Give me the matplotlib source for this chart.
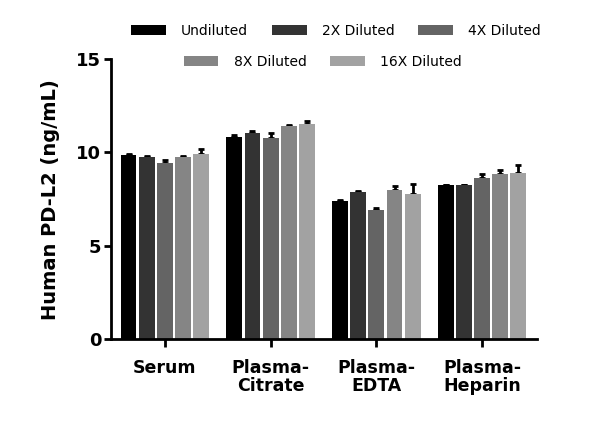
import numpy as np
import matplotlib
matplotlib.use("Agg")
import matplotlib.pyplot as plt
from matplotlib.patches import Patch

# sample types and dilution series
categories = ["Serum", "Plasma-\nCitrate", "Plasma-\nEDTA", "Plasma-\nHeparin"]
dilutions = ["Undiluted", "2X Diluted", "4X Diluted", "8X Diluted", "16X Diluted"]

# mean concentration (ng/mL) per dilution, in category order
undiluted = [9.85, 10.85, 7.4, 8.25]
diluted_2x = [9.75, 11.05, 7.9, 8.25]
diluted_4x = [9.45, 10.75, 6.9, 8.65]
diluted_8x = [9.75, 11.4, 8.0, 8.85]
diluted_16x = [9.9, 11.55, 7.8, 8.9]

# upper error (SD)
err_undiluted = [0.05, 0.1, 0.07, 0.03]
err_2x = [0.07, 0.1, 0.05, 0.03]
err_4x = [0.17, 0.28, 0.12, 0.2]
err_8x = [0.05, 0.05, 0.2, 0.2]
err_16x = [0.3, 0.12, 0.5, 0.45]

series = [undiluted, diluted_2x, diluted_4x, diluted_8x, diluted_16x]
errors = [err_undiluted, err_2x, err_4x, err_8x, err_16x]
colors = ["#000000", "#333333", "#646464", "#858585", "#a2a2a2"]

plt.rcParams['font.family'] = ['DejaVu Sans']

fig = plt.figure(figsize=(6, 4.32), dpi=100)
ax = fig.add_axes([0.185, 0.215, 0.71, 0.648])

x = np.arange(len(categories))
slot = 0.172
width = 0.15

for i, (vals, errs, col) in enumerate(zip(series, errors, colors)):
    pos = x + (i - 2) * slot
    ax.bar(pos, vals, width=width, color=col, zorder=2)
    # drawn behind the bars so only the upper whisker shows
    ax.errorbar(pos, vals, yerr=[np.zeros(len(errs)), errs], fmt='none',
                ecolor='black', elinewidth=2, capsize=2.5, capthick=2, zorder=1)

ax.set_xlim(-0.51, 3.52)
ax.set_ylim(0, 15)
ax.set_yticks([0, 5, 10, 15])
ax.set_xticks(x)
ax.set_xticklabels(categories, fontsize=12.5, fontweight='bold', va='top',
                   linespacing=1.05)
ax.tick_params(axis='y', labelsize=13, width=2, length=5, pad=2)
ax.tick_params(axis='x', width=2, length=6, pad=8)
for lbl in ax.get_yticklabels():
    lbl.set_fontweight('bold')

for side in ['top', 'right']:
    ax.spines[side].set_visible(False)
for side in ['left', 'bottom']:
    ax.spines[side].set_linewidth(2)

ax.set_ylabel("Human PD-L2 (ng/mL)", fontsize=14, fontweight='bold', labelpad=12)

handles = [Patch(facecolor=c, edgecolor='none') for c in colors]
leg_kw = dict(loc='center', frameon=False, fontsize=10, handlelength=2.5,
              handleheight=0.75, columnspacing=1.7, handletextpad=1.1)
leg1 = fig.legend(handles[:3], dilutions[:3], ncol=3,
                  bbox_to_anchor=(0.56, 0.928), **leg_kw)
leg2 = fig.legend(handles[3:], dilutions[3:], ncol=2,
                  bbox_to_anchor=(0.538, 0.856), **leg_kw)

fig.savefig("out.png", dpi=100)
